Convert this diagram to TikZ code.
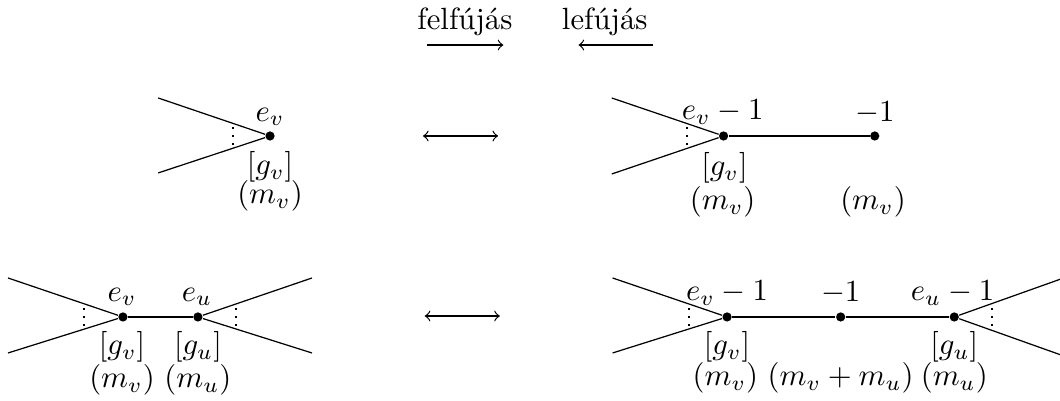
\documentclass[tikz,border=0pt]{standalone}
\usepackage{amsmath,amssymb}
\usepackage{tikz}
\usetikzlibrary{positioning,calc}
\tikzset{
  vtx/.style={circle,fill,inner sep=0pt,minimum size=3pt},
  lab/.style={inner sep=0pt},
  legdots/.style={dotted,line width=0.6pt}
}

\begin{document}
\begin{tikzpicture}[x=1cm,y=1cm]
 \useasboundingbox (0,0) rectangle (12.13,-4.58);
 % header
 \node[lab] (fel) at (5.32,-0.25) {felfújás};
 \node[lab] (le) at (6.92,-0.25) {lefújás};
 \coordinate (felA) at (4.89,-0.515); \coordinate (felB) at (5.76,-0.515);
 \coordinate (leA) at (7.47,-0.515); \coordinate (leB) at (6.62,-0.515);
 \draw[->] (felA) -- (felB);
 \draw[->] (leA) -- (leB);
 % double arrows
 \coordinate (ar1a) at (4.84,-1.556); \coordinate (ar1b) at (5.70,-1.556);
 \coordinate (ar2a) at (4.86,-3.616); \coordinate (ar2b) at (5.72,-3.616);
 \draw[<->] (ar1a) -- (ar1b);
 \draw[<->] (ar2a) -- (ar2b);
 % top left: one vertex
 \node[vtx] (v1) at (3.09,-1.556) {};
 \coordinate (v1a) at (1.81,-1.121); \coordinate (v1b) at (1.81,-1.979);
 \draw (v1a) -- (v1) -- (v1b);
 \draw[legdots] (2.666,-1.456) -- (2.666,-1.656);
 \node[lab] (ev1) at (3.09,-1.339) {$e_v$};
 \node[lab] (gv1) at (3.09,-1.911) {$[g_v]$};
 \node[lab] (mv1) at (3.09,-2.243) {$(m_v)$};
 % top right: blown up vertex
 \node[vtx] (v2) at (8.28,-1.556) {};
 \node[vtx] (w2) at (10.01,-1.556) {};
 \coordinate (v2a) at (7.00,-1.121); \coordinate (v2b) at (7.00,-1.991);
 \draw (v2a) -- (v2) -- (v2b);
 \draw (v2) -- (w2);
 \draw[legdots] (7.86,-1.456) -- (7.86,-1.656);
 \node[lab] (ev2) at (8.27,-1.281) {$e_v-1$};
 \node[lab] (ew2) at (10.01,-1.293) {$-1$};
 \node[lab] (gv2) at (8.29,-1.922) {$[g_v]$};
 \node[lab] (mv2) at (8.27,-2.311) {$(m_v)$};
 \node[lab] (mw2) at (9.99,-2.311) {$(m_v)$};
 % bottom left: one edge
 \node[vtx] (v3) at (1.407,-3.627) {};
 \node[vtx] (u3) at (2.265,-3.627) {};
 \coordinate (v3a) at (0.092,-3.181); \coordinate (v3b) at (0.092,-4.039);
 \coordinate (u3a) at (3.57,-3.181); \coordinate (u3b) at (3.57,-4.039);
 \draw (v3a) -- (v3) -- (v3b);
 \draw (u3a) -- (u3) -- (u3b);
 \draw (v3) -- (u3);
 \draw[legdots] (0.961,-3.527) -- (0.961,-3.727);
 \draw[legdots] (2.70,-3.527) -- (2.70,-3.727);
 \node[lab] (ev3) at (1.396,-3.398) {$e_v$};
 \node[lab] (eu3) at (2.254,-3.398) {$e_u$};
 \node[lab] (gv3) at (1.396,-3.970) {$[g_v]$};
 \node[lab] (gu3) at (2.265,-3.970) {$[g_u]$};
 \node[lab] (mv3) at (1.396,-4.348) {$(m_v)$};
 \node[lab] (mu3) at (2.265,-4.348) {$(m_u)$};
 % bottom right: blown up edge
 \node[vtx] (v4) at (8.32,-3.627) {};
 \node[vtx] (w4) at (9.62,-3.627) {};
 \node[vtx] (u4) at (10.92,-3.627) {};
 \coordinate (v4a) at (7.01,-3.181); \coordinate (v4b) at (7.01,-4.039);
 \coordinate (u4a) at (12.13,-3.196); \coordinate (u4b) at (12.13,-4.058);
 \draw (v4a) -- (v4) -- (v4b);
 \draw (u4a) -- (u4) -- (u4b);
 \draw (v4) -- (w4) -- (u4);
 \draw[legdots] (7.88,-3.527) -- (7.88,-3.727);
 \draw[legdots] (11.35,-3.527) -- (11.35,-3.727);
 \node[lab] (ev4) at (8.32,-3.352) {$e_v-1$};
 \node[lab] (ew4) at (9.62,-3.352) {$-1$};
 \node[lab] (eu4) at (10.90,-3.352) {$e_u-1$};
 \node[lab] (gv4) at (8.32,-3.970) {$[g_v]$};
 \node[lab] (gu4) at (10.92,-3.970) {$[g_u]$};
 \node[lab] (mv4) at (8.30,-4.325) {$(m_v)$};
 \node[lab] (mw4) at (9.62,-4.325) {$(m_v+m_u)$};
 \node[lab] (mu4) at (10.92,-4.325) {$(m_u)$};
\end{tikzpicture}
\end{document}
